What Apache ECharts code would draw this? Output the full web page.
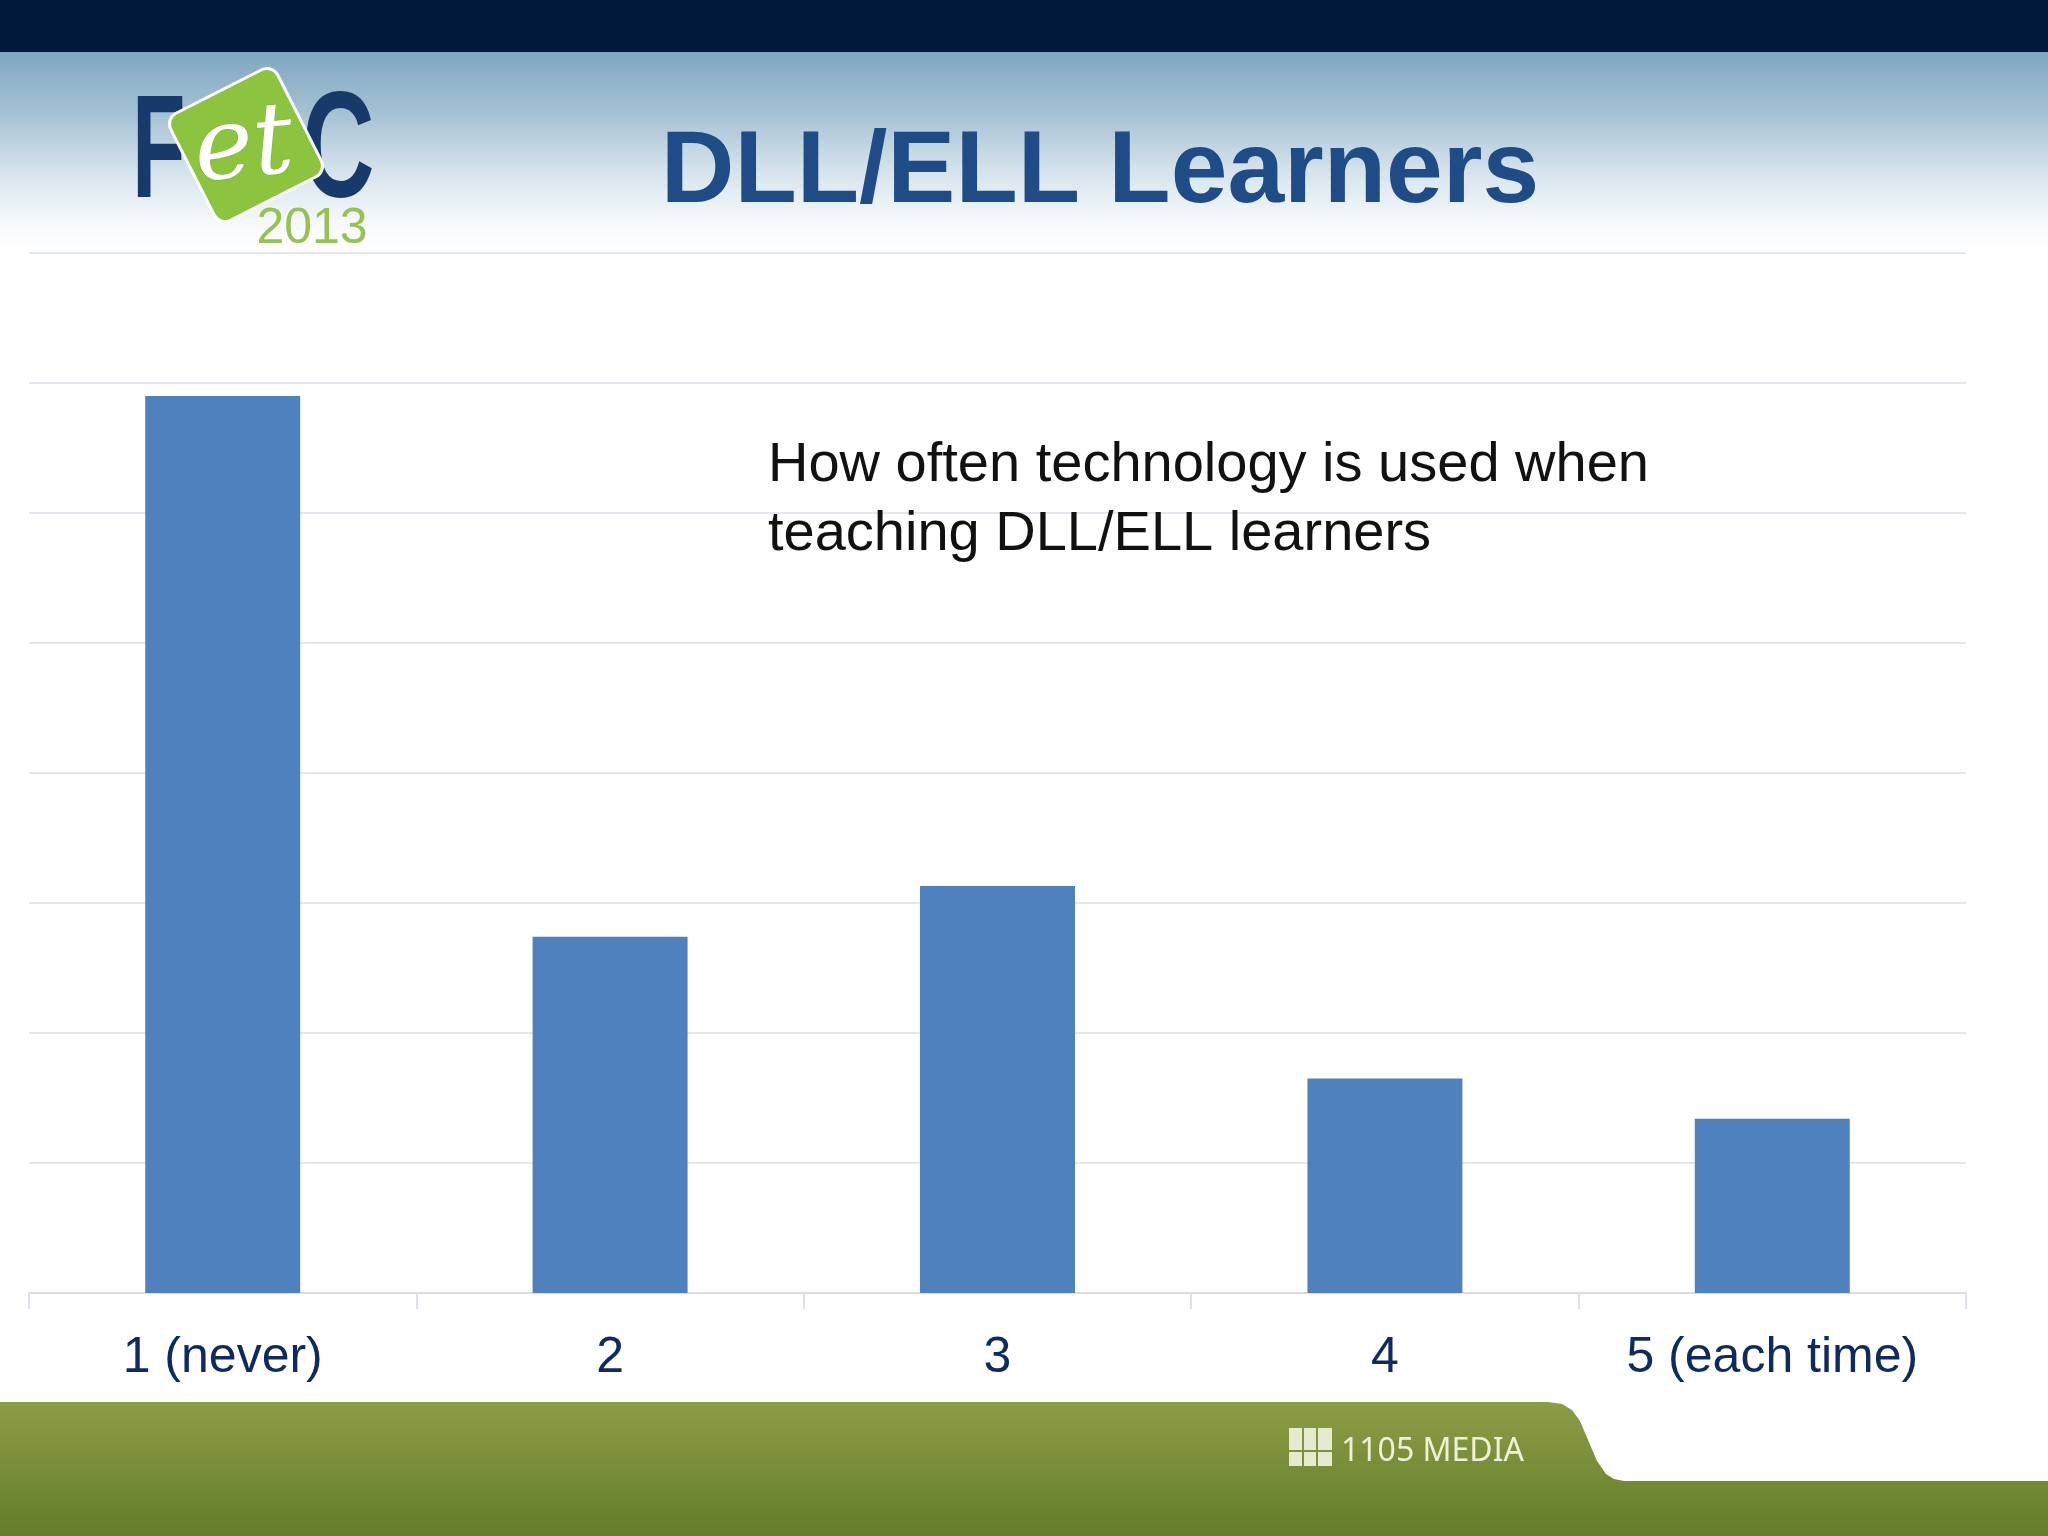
<!DOCTYPE html>
<html>
<head>
<meta charset="utf-8">
<style>
html,body{margin:0;padding:0;background:#fff;}
#chart{width:2048px;height:1536px;}
</style>
<script src="https://cdn.jsdelivr.net/npm/echarts@6/dist/echarts.min.js"></script>
</head>
<body>
<div id="chart"></div>
<script>
// ---- data ----
const categories = ['1 (never)', '2', '3', '4', '5 (each time)'];
const values = [6.9, 2.74, 3.13, 1.65, 1.34];
const yMin = 0;
const yMax = 8;
const yInterval = 1;
const slideTitle = 'DLL/ELL Learners';
const chartNote = 'How often technology is used when\nteaching DLL/ELL learners';

const chart = echarts.init(document.getElementById('chart'), null, {renderer: 'canvas'});

const option = {
  backgroundColor: '#ffffff',
  animation: false,
  grid: {left: 29, right: 82, top: 253, bottom: 243, containLabel: false},
  xAxis: {
    type: 'category',
    data: categories,
    axisLine: {show: true, lineStyle: {color: '#d9dde8', width: 2}},
    axisTick: {show: true, alignWithLabel: false, length: 16, lineStyle: {color: '#dde0e8', width: 2}},
    axisLabel: {
      color: '#0e2a5e', fontSize: 50, fontFamily: 'Liberation Sans, Arial, sans-serif',
      margin: 40, lineHeight: 50, interval: 0
    }
  },
  yAxis: {
    type: 'value', min: yMin, max: yMax, interval: yInterval,
    axisLine: {show: false}, axisTick: {show: false}, axisLabel: {show: false},
    splitLine: {show: true, lineStyle: {color: '#e4e7ee', width: 2}}
  },
  series: [{
    type: 'bar',
    data: values,
    barWidth: '40%',
    itemStyle: {color: '#4f81bd'},
    z: 3
  }],
  graphic: [
    // header gradient
    {type: 'rect', z: -20, shape: {x: 0, y: 50, width: 2048, height: 202},
     style: {fill: new echarts.graphic.LinearGradient(0, 0, 0, 1, [
       {offset: 0, color: '#7ea6c1'},
       {offset: 0.3, color: '#a3c0d3'},
       {offset: 0.6, color: '#d6e3ec'},
       {offset: 0.85, color: '#f5f9fb'},
       {offset: 1, color: '#ffffff'}
     ])}},
    // dark top bar
    {type: 'rect', z: -10, shape: {x: 0, y: 0, width: 2048, height: 52}, style: {fill: '#011a3b'}},
    // title
    {type: 'text', z: 10, style: {
      text: slideTitle, x: 1100, y: 174, textAlign: 'center', textVerticalAlign: 'middle',
      font: 'bold 102px "Liberation Sans", Arial, sans-serif', fill: '#1f4b86'
    }},
    // note text
    {type: 'text', z: 10, style: {
      text: chartNote, x: 768, y: 431, textAlign: 'left', textVerticalAlign: 'top',
      font: '56px "Liberation Sans", Arial, sans-serif', fill: '#111111', lineHeight: 69
    }},
    // logo: F
    {type: 'text', z: 10, scaleX: 0.6, originX: 132, originY: 230, style: {
      text: 'F', x: 132, y: 230, textAlign: 'left', textVerticalAlign: 'bottom',
      font: 'bold 146px "Liberation Sans", Arial, sans-serif', fill: '#183a6b'
    }},
    // logo: C
    {type: 'text', z: 10, scaleX: 0.67, originX: 302, originY: 231, style: {
      text: 'C', x: 302, y: 231, textAlign: 'left', textVerticalAlign: 'bottom',
      font: 'bold 150px "Liberation Sans", Arial, sans-serif', fill: '#183a6b'
    }},
    // logo: green tile
    {type: 'rect', z: 11, rotation: 0.47, originX: 246, originY: 145,
     shape: {x: 186, y: 85, width: 120, height: 120, r: 12},
     style: {fill: '#8cc43f', stroke: '#ffffff', lineWidth: 3}},
    {type: 'text', z: 12, rotation: 0.1, originX: 244, originY: 150, style: {
      text: 'et', x: 244, y: 150, textAlign: 'center', textVerticalAlign: 'middle',
      font: 'italic 100px "DejaVu Serif", serif', fill: '#ffffff', stroke: '#7fb23a', lineWidth: 1
    }},
    {type: 'text', z: 12, style: {
      text: '2013', x: 312, y: 229, textAlign: 'center', textVerticalAlign: 'middle',
      font: '50px "Liberation Sans", Arial, sans-serif', fill: '#97c252'
    }},
    // footer green band
    {type: 'rect', z: -10, shape: {x: 0, y: 1402, width: 2048, height: 134},
     style: {fill: new echarts.graphic.LinearGradient(0, 0, 0, 1, [
       {offset: 0, color: '#8c9d47'},
       {offset: 1, color: '#637d28'}
     ])}},
    // footer white tab
    {type: 'polygon', z: -9, shape: {
      points: [[1548,1402],[1562,1404],[1572,1410],[1580,1421],[1588,1440],[1597,1461],[1606,1474],[1614,1479],[1624,1481],[2048,1481],[2048,1402]]
     }, style: {fill: '#ffffff'}},
    // footer logo icon
    {type: 'rect', z: -8, shape: {x: 1289, y: 1428, width: 13, height: 22}, style: {fill: '#e6ebcf'}},
    {type: 'rect', z: -8, shape: {x: 1304, y: 1428, width: 12, height: 22}, style: {fill: '#e6ebcf'}},
    {type: 'rect', z: -8, shape: {x: 1318, y: 1428, width: 14, height: 22}, style: {fill: '#e6ebcf'}},
    {type: 'rect', z: -8, shape: {x: 1289, y: 1452, width: 13, height: 14}, style: {fill: '#e6ebcf'}},
    {type: 'rect', z: -8, shape: {x: 1304, y: 1452, width: 12, height: 14}, style: {fill: '#e6ebcf'}},
    {type: 'rect', z: -8, shape: {x: 1318, y: 1452, width: 14, height: 14}, style: {fill: '#e6ebcf'}},
    {type: 'text', z: -7, style: {
      text: '1105 MEDIA', x: 1341, y: 1452, textAlign: 'left', textVerticalAlign: 'middle',
      font: '32px "Noto Sans", sans-serif', fill: '#eef1d8'
    }}
  ]
};
chart.setOption(option);
</script>
</body>
</html>
